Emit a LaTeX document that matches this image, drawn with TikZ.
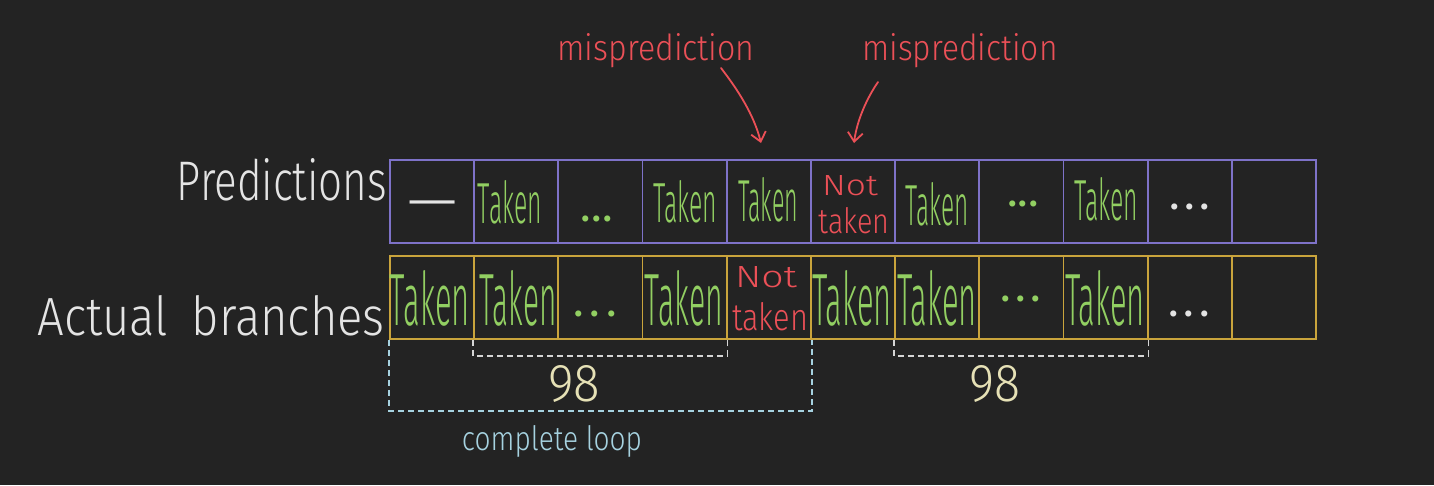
\documentclass[tikz,border=0pt]{standalone}
\usepackage{fontspec}
\IfFontExistsTF{Fira Sans Light}{\setmainfont{Fira Sans Light}}{\setmainfont{Fira Sans}}
\newfontfamily\dotfont{Fira Sans}
\usetikzlibrary{arrows.meta}
\definecolor{bg}{HTML}{232323}
\definecolor{predc}{HTML}{7E72C8}
\definecolor{actc}{HTML}{C9A43C}
\definecolor{grn}{HTML}{92CF62}
\definecolor{rd}{HTML}{EB5057}
\definecolor{wht}{HTML}{E4E4E4}
\definecolor{lblue}{HTML}{A6D2E0}
\definecolor{cream}{HTML}{E6E1B6}
\definecolor{gry}{HTML}{D6D6D6}
\newcommand\rs[3]{\resizebox{#1pt}{#2pt}{#3}}
\newcommand\threedots[1]{\makebox[#1pt]{.\hfill.\hfill.}}
\begin{document}
\begin{tikzpicture}[x=1pt,y=-1pt,
  cellp/.style={draw=predc, line width=1.9pt, minimum width=84.18pt, minimum height=83pt, inner sep=0pt},
  cella/.style={draw=actc, line width=1.9pt, minimum width=84.18pt, minimum height=83pt, inner sep=0pt},
  txt/.style={inner sep=0pt, anchor=base},
  gtxt/.style={txt, text=grn},
  rtxt/.style={txt, text=rd},
  dotsg/.style={txt, text=grn, font=\dotfont\fontsize{44}{44}\selectfont},
  dotsw/.style={txt, text=wht, font=\dotfont\fontsize{44}{44}\selectfont},
  innerbr/.style={draw=gry, line width=1.6pt, dash pattern=on 6pt off 4pt},
  outerbr/.style={draw=lblue, line width=1.6pt, dash pattern=on 6pt off 4pt},
  redarrow/.style={draw=rd, line width=1.8pt, line cap=round, -{Straight Barb[length=9pt,width=15pt,line width=1.8pt]}}
]
\useasboundingbox (0,0) rectangle (1434,485);
\fill[bg] (0,0) rectangle (1434,485);

% cells
\foreach \i in {1,...,11} {
  \node[cellp] (p\i) at ({390+84.18*(\i-0.5)},201.5) {};
  \node[cella] (a\i) at ({390+84.18*(\i-0.5)},297.5) {};
}

% labels
\node[txt, text=wht, anchor=base east] (lp) at (387,200) {\rs{210}{42}{Predictions}};
\node[txt, text=wht, anchor=base east] (la) at (385,335) {\rs{347}{40}{Actual\hspace{0.5em}branches}};

% prediction row contents
\node[txt, text=wht, font=\fontsize{64}{64}\selectfont] (pd1) at (433,222) {—};
\node[gtxt] (pt2) at (510,223) {\rs{64}{43}{Taken}};
\node[dotsg] (pd3) at (597,221) {\threedots{33}};
\node[gtxt] (pt4) at (685,222) {\rs{64}{42}{Taken}};
\node[gtxt] (pt5) at (768,221) {\rs{60}{44}{Taken}};
\node[rtxt] (pn6a) at (850,195) {\rs{56}{20}{Not}};
\node[rtxt] (pn6b) at (854,233) {\rs{71}{26}{taken}};
\node[gtxt] (pt7) at (937,225) {\rs{63}{43}{Taken}};
\node[dotsg] (pd8) at (1023,206) {\threedots{30}};
\node[gtxt] (pt9) at (1106,220) {\rs{64}{43}{Taken}};
\node[dotsw] (pd10) at (1190,209) {\threedots{41}};

% actual row contents
\node[gtxt] (at1) at (430,325) {\rs{80}{55}{Taken}};
\node[gtxt] (at2) at (518,325) {\rs{77}{55}{Taken}};
\node[dotsg] (ad3) at (595,316) {\threedots{44}};
\node[gtxt] (at4) at (684,325) {\rs{78}{55}{Taken}};
\node[rtxt] (an5a) at (766,287) {\rs{62}{21}{Not}};
\node[rtxt] (an5b) at (770,330) {\rs{76}{28}{taken}};
\node[gtxt] (at6) at (852,325) {\rs{80}{55}{Taken}};
\node[gtxt] (at7) at (937,325) {\rs{80}{55}{Taken}};
\node[dotsg] (ad8) at (1021,301) {\threedots{41}};
\node[gtxt] (at9) at (1105,325) {\rs{80}{55}{Taken}};
\node[dotsw] (ad10) at (1189,316) {\threedots{42}};

% mispredictions
\node[rtxt] (m1) at (656,60) {\rs{197}{27}{misprediction}};
\node[rtxt] (m2) at (960,60) {\rs{195}{27}{misprediction}};
\coordinate (m1s) at (721,68);
\coordinate (m2s) at (878,82);
\coordinate (m1e) at (761,143);
\coordinate (m2e) at (854,143);
\draw[redarrow] (m1s) .. controls (738,90) and (754,115) .. (m1e);
\draw[redarrow] (m2s) .. controls (867,98) and (857,120) .. (m2e);

% brackets
\draw[outerbr] (a1.south west) -- ++(0,71) -| (a5.south east);
\draw[innerbr] (a2.south west) -- ++(0,16) -| (a4.south east);
\draw[innerbr] (a7.south west) -- ++(0,16) -| (a9.south east);

\node[txt, text=cream] (n1) at (574,401) {\rs{52}{36}{98}};
\node[txt, text=cream] (n2) at (995,401) {\rs{51}{36}{98}};
\node[txt, text=lblue] (cl) at (552,450) {\rs{180}{25}{complete loop}};
\end{tikzpicture}
\end{document}
